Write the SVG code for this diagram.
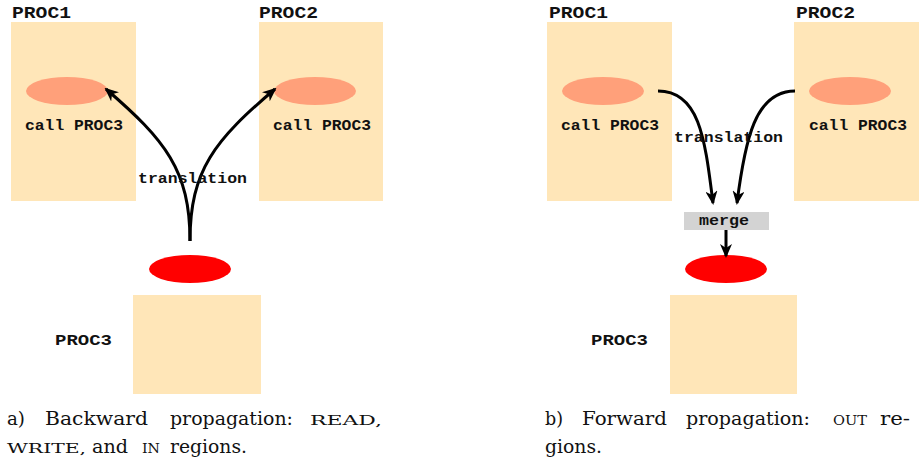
<svg xmlns="http://www.w3.org/2000/svg" width="921" height="462" viewBox="0 0 921 462">
<style>
.box{fill:#ffe6b8}
.reg{fill:#ffa07a}
.red{fill:#ff0000}
.mono{font-family:"Liberation Mono","DejaVu Sans Mono",monospace;font-weight:bold;font-size:16px;fill:#111}
.lbl{font-family:"Liberation Mono","DejaVu Sans Mono",monospace;font-weight:bold;font-size:14px;fill:#111}
.cap{font-family:"DejaVu Serif","Liberation Serif",serif;font-size:18px;fill:#111}
.sc{font-size:13.5px}
.conn{fill:none;stroke:#000;stroke-width:3;marker-end:url(#ah)}
</style>
<defs>
<marker id="ah" viewBox="0 0 14 12" refX="12" refY="6" markerWidth="14" markerHeight="12" markerUnits="userSpaceOnUse" orient="auto">
<path d="M0,0 L14,6 L0,12 L4,6 z" fill="#000"/>
</marker>
</defs>

<!-- left panel -->
<g id="a-proc1">
<text class="mono" x="12" y="18" textLength="59" lengthAdjust="spacingAndGlyphs">PROC1</text>
<rect class="box" x="11" y="22" width="125" height="179"/>
<ellipse class="reg" cx="67" cy="91" rx="41" ry="14"/>
<text class="lbl" x="25" y="130" textLength="98" lengthAdjust="spacingAndGlyphs">call PROC3</text>
</g>
<g id="a-proc2">
<text class="mono" x="259" y="18" textLength="59" lengthAdjust="spacingAndGlyphs">PROC2</text>
<rect class="box" x="259" y="22" width="124" height="179"/>
<ellipse class="reg" cx="315" cy="91" rx="41" ry="14"/>
<text class="lbl" x="273" y="130" textLength="98" lengthAdjust="spacingAndGlyphs">call PROC3</text>
</g>
<g id="a-proc3">
<ellipse class="red" cx="190" cy="269" rx="41" ry="14"/>
<rect class="box" x="133" y="295" width="128" height="99"/>
<text class="lbl" x="55" y="345" textLength="57" lengthAdjust="spacingAndGlyphs">PROC3</text>
</g>
<g id="a-connectors">
<path class="conn" d="M190,241 C190,170 165,140 106,89"/>
<path class="conn" d="M190,241 C190,170 215,140 275,89"/>
<text class="lbl" x="138" y="183" textLength="109" lengthAdjust="spacingAndGlyphs">translation</text>
</g>
<g id="a-caption" class="cap">
<text x="7" y="425" textLength="18" lengthAdjust="spacingAndGlyphs">a)</text>
<text x="45" y="425" textLength="103" lengthAdjust="spacingAndGlyphs">Backward</text>
<text x="170" y="425" textLength="123" lengthAdjust="spacingAndGlyphs">propagation:</text>
<text x="310" y="425" class="sc" textLength="72" lengthAdjust="spacingAndGlyphs">READ,</text>
<text x="7" y="453" class="sc" textLength="79" lengthAdjust="spacingAndGlyphs">WRITE,</text>
<text x="92" y="453" textLength="36" lengthAdjust="spacingAndGlyphs">and</text>
<text x="142" y="453" class="sc" textLength="18" lengthAdjust="spacingAndGlyphs">IN</text>
<text x="170" y="453" textLength="77" lengthAdjust="spacingAndGlyphs">regions.</text>
</g>

<!-- right panel -->
<g id="b-proc1">
<text class="mono" x="549" y="18" textLength="59" lengthAdjust="spacingAndGlyphs">PROC1</text>
<rect class="box" x="547" y="22" width="125" height="179"/>
<ellipse class="reg" cx="603" cy="91" rx="41" ry="14"/>
<text class="lbl" x="561" y="130" textLength="98" lengthAdjust="spacingAndGlyphs">call PROC3</text>
</g>
<g id="b-proc2">
<text class="mono" x="796" y="18" textLength="59" lengthAdjust="spacingAndGlyphs">PROC2</text>
<rect class="box" x="794" y="22" width="125" height="179"/>
<ellipse class="reg" cx="850" cy="91" rx="41" ry="14"/>
<text class="lbl" x="809" y="130" textLength="98" lengthAdjust="spacingAndGlyphs">call PROC3</text>
</g>
<g id="b-merge">
<rect x="684" y="212" width="85" height="18" fill="#d3d3d3"/>
<text class="lbl" x="699" y="225" textLength="50" lengthAdjust="spacingAndGlyphs">merge</text>
</g>
<g id="b-proc3">
<ellipse class="red" cx="726" cy="269" rx="41" ry="14"/>
<rect class="box" x="670" y="295" width="127" height="99"/>
<text class="lbl" x="591" y="345" textLength="57" lengthAdjust="spacingAndGlyphs">PROC3</text>
</g>
<g id="b-connectors">
<path class="conn" d="M658,91 C700,91 705,140 713,203"/>
<path class="conn" d="M795,91 C755,91 745,140 737,203"/>
<path class="conn" d="M726,230 L726,256"/>
<text class="lbl" x="674" y="142" textLength="109" lengthAdjust="spacingAndGlyphs">translation</text>
</g>
<g id="b-caption" class="cap">
<text x="545" y="425" textLength="18" lengthAdjust="spacingAndGlyphs">b)</text>
<text x="582" y="425" textLength="85" lengthAdjust="spacingAndGlyphs">Forward</text>
<text x="686" y="425" textLength="124" lengthAdjust="spacingAndGlyphs">propagation:</text>
<text x="833" y="425" class="sc" textLength="34" lengthAdjust="spacingAndGlyphs">OUT</text>
<text x="880" y="425" textLength="30" lengthAdjust="spacingAndGlyphs">re-</text>
<text x="545" y="453" textLength="57" lengthAdjust="spacingAndGlyphs">gions.</text>
</g>
</svg>
